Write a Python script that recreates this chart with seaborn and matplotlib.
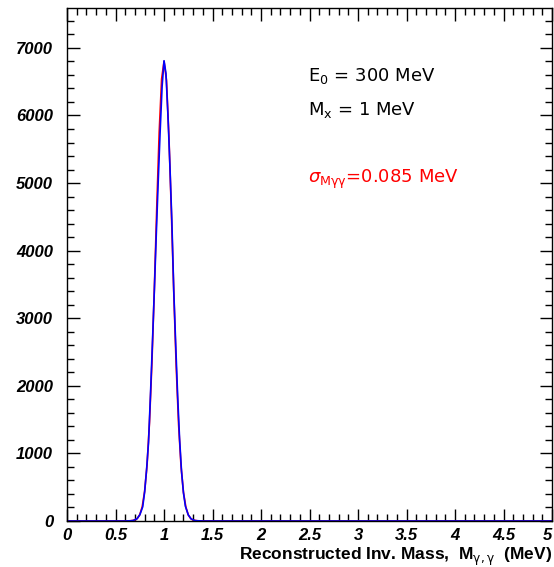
import numpy as np
import pandas as pd
import seaborn as sns
import matplotlib.pyplot as plt
from matplotlib.ticker import MultipleLocator

# Histogram (red)
hist_x = [0.0, 0.5, 0.65, 0.7, 0.725, 0.75, 0.775, 0.8, 0.825, 0.85, 0.875, 0.9, 0.925, 0.95,
          0.975, 1.0, 1.025, 1.05, 1.075, 1.1, 1.125, 1.15, 1.175, 1.2, 1.225, 1.25,
          1.275, 1.3, 1.35, 1.5, 5.0]
hist_y = [0, 0, 2, 15, 38, 95, 210, 440, 830, 1460, 2340, 3430, 4640, 5750,
          6540, 6800, 6520, 5700, 4600, 3400, 2300, 1430, 815, 425, 205, 90,
          36, 13, 2, 0, 0]

# Gaussian fit curve (blue)
fit_x = [0.0, 0.6, 0.68, 0.72, 0.75, 0.78, 0.8, 0.82, 0.84, 0.86, 0.88, 0.9, 0.92, 0.94,
         0.96, 0.98, 1.0, 1.02, 1.04, 1.06, 1.08, 1.1, 1.12, 1.14, 1.16, 1.18, 1.2,
         1.22, 1.25, 1.28, 1.32, 1.4, 5.0]
fit_y = [0, 0, 6, 32, 90, 210, 430, 760, 1160, 1860, 2620, 3410, 4240, 5030,
         5770, 6430, 6810, 6620, 6010, 5280, 4460, 3420, 2620, 1860, 1220, 740, 420,
         220, 90, 30, 6, 0, 0]

xticks = [0, 0.5, 1, 1.5, 2, 2.5, 3, 3.5, 4, 4.5, 5]
xtick_labels = ["0", "0.5", "1", "1.5", "2", "2.5", "3", "3.5", "4", "4.5", "5"]
yticks = [0, 1000, 2000, 3000, 4000, 5000, 6000, 7000]

sns.set_theme(style="ticks")
plt.rcParams['font.family'] = ['Liberation Sans', 'DejaVu Sans']
plt.rcParams['mathtext.fontset'] = 'dejavusans'
plt.rcParams['text.color'] = 'black'
plt.rcParams['axes.labelcolor'] = 'black'
plt.rcParams['xtick.color'] = 'black'
plt.rcParams['ytick.color'] = 'black'

fig = plt.figure(figsize=(5.54, 5.67), dpi=100)
ax = fig.add_axes([0.121, 0.0811, 0.8755, 0.9048])

df_h = pd.DataFrame({"x": hist_x, "y": hist_y})
df_f = pd.DataFrame({"x": fit_x, "y": fit_y})
sns.lineplot(data=df_h, x="x", y="y", ax=ax, color="red", lw=1.2, sort=False)
sns.lineplot(data=df_f, x="x", y="y", ax=ax, color="blue", lw=1.2, sort=False)

ax.set_xlim(0, 5)
ax.set_ylim(0, 7590)
ax.set_xticks(xticks)
ax.set_xticklabels(xtick_labels)
ax.set_yticks(yticks)
ax.set_yticklabels([str(v) for v in yticks])
ax.xaxis.set_minor_locator(MultipleLocator(0.1))
ax.yaxis.set_minor_locator(MultipleLocator(200))
ax.tick_params(which='both', direction='in', top=True, right=True, color='black',
               labelcolor='black')
ax.tick_params(which='major', length=9, width=1)
ax.tick_params(which='minor', length=5, width=1)
ax.tick_params(axis='y', pad=10)
ax.tick_params(axis='x', pad=5)
for lab in ax.get_xticklabels() + ax.get_yticklabels():
    lab.set_fontweight('bold')
    lab.set_fontstyle('italic')
    lab.set_fontsize(12)
xl = ax.get_xticklabels()
xl[-1].set_horizontalalignment('right')
for s in ax.spines.values():
    s.set_linewidth(1)
    s.set_color('black')

ax.set_ylabel("")
ax.set_xlabel(r"Reconstructed Inv. Mass,  M$_{\mathrm{\gamma,\gamma}}$  (MeV)",
              fontsize=12.5, fontweight='bold', loc='right', labelpad=2, color='black')

ax.text(2.485, 6586, r"E$_\mathrm{0}$ = 300 MeV", fontsize=13, va='center', ha='left',
        family=['DejaVu Sans'], color='black')
ax.text(2.485, 6083, r"M$_\mathrm{x}$ = 1 MeV", fontsize=13, va='center', ha='left',
        family=['DejaVu Sans'], color='black')
ax.text(2.485, 5047, r"$\sigma_{\mathrm{M\gamma\gamma}}$=0.085 MeV", fontsize=13, va='center',
        ha='left', color='red', family=['DejaVu Sans'])

fig.savefig("out.png", dpi=100, facecolor='white')
